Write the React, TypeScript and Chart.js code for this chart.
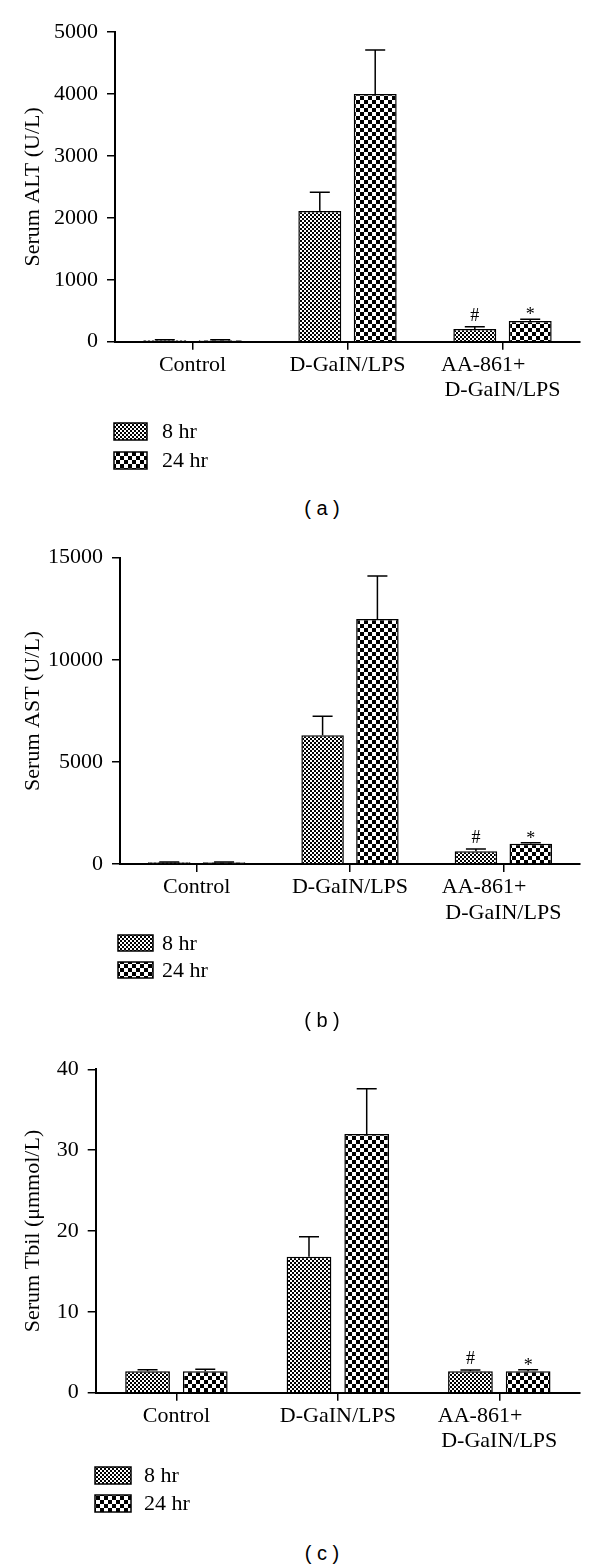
import React, { useEffect, useRef } from "react";
import { Chart, registerables } from "chart.js";

Chart.register(...registerables);

// ---------- data ----------
const categories: (string | string[])[] = ["Control", "D-GaIN/LPS", ["AA-861+       ", "D-GaIN/LPS"]];
const seriesLabels = ["8 hr", "24 hr"];
const marks8 = ["", "", "#"];
const marks24 = ["", "", "*"];

const altMean8 = [25, 2110, 205];
const altErr8 = [32, 2412, 242];
const altMean24 = [25, 4000, 334];
const altErr24 = [32, 4709, 361];
const altTicks = [0, 1000, 2000, 3000, 4000, 5000];

const astMean8 = [80, 6300, 620];
const astErr8 = [100, 7230, 735];
const astMean24 = [80, 12000, 995];
const astErr24 = [100, 14100, 1043];
const astTicks = [0, 5000, 10000, 15000];

const tbilMean8 = [2.65, 16.8, 2.65];
const tbilErr8 = [2.85, 19.3, 2.8];
const tbilMean24 = [2.65, 32, 2.65];
const tbilErr24 = [2.9, 37.6, 2.85];
const tbilTicks = [0, 10, 20, 30, 40];

const SERIF = "'Liberation Serif', 'Times New Roman', serif";

function makePattern(cell: number): CanvasPattern | string {
  const c = document.createElement("canvas");
  c.width = cell * 2;
  c.height = cell * 2;
  const g = c.getContext("2d");
  if (!g) return "#888";
  g.fillStyle = "#fff";
  g.fillRect(0, 0, cell * 2, cell * 2);
  g.fillStyle = "#000";
  g.fillRect(0, 0, cell, cell);
  g.fillRect(cell, cell, cell, cell);
  return g.createPattern(c, "repeat") || "#888";
}

const errorBarPlugin = {
  id: "errorBars",
  afterDatasetsDraw(chart: any) {
    const ctx = chart.ctx;
    const yScale = chart.scales.y;
    ctx.save();
    chart.data.datasets.forEach((ds: any, i: number) => {
      const meta = chart.getDatasetMeta(i);
      meta.data.forEach((el: any, j: number) => {
        const top = yScale.getPixelForValue(ds.errUpper[j]);
        ctx.strokeStyle = "#000";
        ctx.lineWidth = 1.5;
        ctx.beginPath();
        ctx.moveTo(el.x, el.y);
        ctx.lineTo(el.x, top);
        ctx.moveTo(el.x - 10, top);
        ctx.lineTo(el.x + 10, top);
        ctx.stroke();
        const m = ds.marks[j];
        if (m) {
          ctx.fillStyle = "#000";
          ctx.font = `18px ${SERIF}`;
          ctx.textAlign = "center";
          ctx.textBaseline = "alphabetic";
          ctx.fillText(m, el.x, m === "*" ? top + 1 : top - 6);
        }
      });
    });
    ctx.restore();
  },
};

const legendPlugin = {
  id: "patternLegend",
  afterDraw(chart: any, _args: any, opts: any) {
    const ctx = chart.ctx;
    ctx.save();
    chart.data.datasets.forEach((ds: any, i: number) => {
      const y = opts.y + i * opts.gap;
      ctx.fillStyle = ds.backgroundColor;
      ctx.fillRect(opts.x, y, opts.w, opts.h);
      ctx.strokeStyle = "#000";
      ctx.lineWidth = 1.5;
      ctx.strokeRect(opts.x, y, opts.w, opts.h);
      ctx.fillStyle = "#000";
      ctx.font = `22px ${SERIF}`;
      ctx.textAlign = "left";
      ctx.textBaseline = "middle";
      ctx.fillText(ds.label, opts.textX, y + opts.h / 2 + 1);
    });
    ctx.restore();
  },
};

interface PanelProps {
  top: number;
  height: number;
  areaTop: number;
  areaBottom: number;
  areaLeft: number;
  yTitle: string;
  yMax: number;
  ticks: number[];
  mean8: number[];
  err8: number[];
  mean24: number[];
  err24: number[];
  legend: { x: number; y: number; w: number; h: number; gap: number; textX: number };
  caption: string;
  captionTop: number;
}

function Panel(p: PanelProps) {
  const ref = useRef<HTMLCanvasElement>(null);
  useEffect(() => {
    if (!ref.current) return;
    const fine = makePattern(2);
    const coarse = makePattern(4);
    const xHeight = 70;
    const chart = new Chart(ref.current, {
      type: "bar",
      data: {
        labels: categories as any,
        datasets: [
          {
            label: seriesLabels[0],
            data: p.mean8,
            backgroundColor: fine as any,
            borderColor: "#000",
            borderWidth: 1.5,
            categoryPercentage: 0.715,
            barPercentage: 0.775,
            errUpper: p.err8,
            marks: marks8,
          } as any,
          {
            label: seriesLabels[1],
            data: p.mean24,
            backgroundColor: coarse as any,
            borderColor: "#000",
            borderWidth: 1.5,
            categoryPercentage: 0.715,
            barPercentage: 0.775,
            errUpper: p.err24,
            marks: marks24,
          } as any,
        ],
      },
      options: {
        responsive: false,
        animation: false,
        devicePixelRatio: 1,
        layout: {
          padding: {
            top: p.areaTop,
            left: 0,
            right: 20,
            bottom: p.height - p.areaBottom - xHeight,
          },
        },
        plugins: {
          legend: { display: false },
          tooltip: { enabled: false },
          patternLegend: p.legend,
        } as any,
        scales: {
          x: {
            grid: {
              display: true,
              drawOnChartArea: false,
              drawTicks: true,
              tickLength: 8,
              offset: false,
              color: "#000",
              lineWidth: 1.5,
            },
            border: { display: true, color: "#000", width: 2 },
            ticks: {
              color: "#000",
              font: { family: SERIF, size: 22, lineHeight: 1.15 },
              padding: 3,
              maxRotation: 0,
              autoSkip: false,
            },
            afterFit: (s: any) => {
              s.height = xHeight;
            },
          },
          y: {
            min: 0,
            max: p.yMax,
            afterBuildTicks: (s: any) => {
              s.ticks = p.ticks.map((v) => ({ value: v }));
            },
            grid: {
              display: true,
              drawOnChartArea: false,
              drawTicks: true,
              tickLength: 8,
              color: "#000",
              lineWidth: 1.5,
            },
            border: { display: true, color: "#000", width: 2 },
            ticks: {
              color: "#000",
              font: { family: SERIF, size: 22 },
              padding: 9,
              callback: (v: any) => String(v),
            },
            title: {
              display: true,
              text: p.yTitle,
              color: "#000",
              font: { family: SERIF, size: 22 },
              padding: { top: 20, bottom: 0 },
            },
            afterFit: (s: any) => {
              s.width = p.areaLeft;
            },
          },
        },
      },
      plugins: [errorBarPlugin, legendPlugin],
    });
    return () => chart.destroy();
  }, []);
  return (
    <>
      <canvas
        ref={ref}
        width={600}
        height={p.height}
        style={{ position: "absolute", left: 0, top: p.top, width: 600, height: p.height }}
      />
      <div
        style={{
          position: "absolute",
          left: 0,
          width: 644,
          top: p.captionTop,
          textAlign: "center",
          fontFamily: "'Liberation Sans', Arial, sans-serif",
          fontSize: 20,
          lineHeight: "22px",
          color: "#000",
          whiteSpace: "pre",
        }}
      >
        {p.caption}
      </div>
    </>
  );
}

export default function App() {
  return (
    <div style={{ position: "absolute", left: 0, top: 0, width: 600, height: 1568, background: "#fff" }}>
      <Panel
        top={0}
        height={490}
        areaTop={32}
        areaBottom={341.7}
        areaLeft={115}
        yTitle="Serum ALT (U/L)"
        yMax={5000}
        ticks={altTicks}
        mean8={altMean8}
        err8={altErr8}
        mean24={altMean24}
        err24={altErr24}
        legend={{ x: 114, y: 423, w: 33, h: 17, gap: 29, textX: 162 }}
        caption="( a )"
        captionTop={497}
      />
      <Panel
        top={520}
        height={490}
        areaTop={37.7}
        areaBottom={344}
        areaLeft={120}
        yTitle="Serum AST (U/L)"
        yMax={15000}
        ticks={astTicks}
        mean8={astMean8}
        err8={astErr8}
        mean24={astMean24}
        err24={astErr24}
        legend={{ x: 118, y: 415, w: 35, h: 16, gap: 27, textX: 162 }}
        caption="( b )"
        captionTop={1009}
      />
      <Panel
        top={1040}
        height={490}
        areaTop={29.3}
        areaBottom={352.7}
        areaLeft={95.7}
        yTitle="Serum Tbil (μmmol/L)"
        yMax={40}
        ticks={tbilTicks}
        mean8={tbilMean8}
        err8={tbilErr8}
        mean24={tbilMean24}
        err24={tbilErr24}
        legend={{ x: 95, y: 427, w: 36, h: 17, gap: 28, textX: 144 }}
        caption="( c )"
        captionTop={1542}
      />
    </div>
  );
}
